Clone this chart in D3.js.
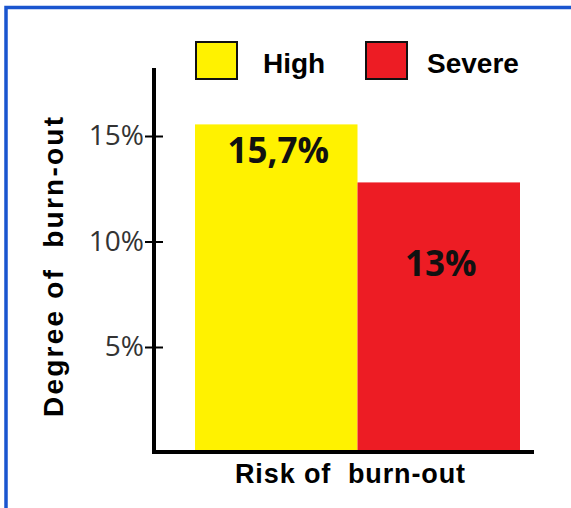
<!DOCTYPE html>
<html>
<head>
<meta charset="utf-8">
<script src="https://cdn.jsdelivr.net/npm/d3@7"></script>
<style>
  body { margin: 0; background: #fff; }
  svg { display: block; }
</style>
</head>
<body>
<svg id="chart"></svg>
<script>
// data (bar heights as drawn, labels as printed)
const categories = ['High', 'Severe'];
const values = [15.55, 12.8];
const valueLabels = ['15,7%', '13%'];
const colors = ['#fff200', '#ed1c24'];
const yTicks = [5, 10, 15];

const width = 571, height = 508;

const svg = d3.select('#chart')
    .attr('width', width)
    .attr('height', height);

// blue frame, only top and left show up in the crop
svg.append('rect')
    .attr('x', 6)
    .attr('y', 7.5)
    .attr('width', 600)
    .attr('height', 560)
    .attr('fill', 'none')
    .attr('stroke', '#1a55cf')
    .attr('stroke-width', 3.5);

const xScale = d3.scaleBand()
    .domain(categories)
    .range([195, 520])
    .padding(0);

const yScale = d3.scaleLinear()
    .domain([0, 15])
    .range([452.5, 136]);

// bars
svg.selectAll('.bar')
    .data(values)
  .join('rect')
    .attr('class', 'bar')
    .attr('x', (d, i) => xScale(categories[i]))
    .attr('y', d => yScale(d))
    .attr('width', xScale.bandwidth())
    .attr('height', d => yScale(0) - yScale(d))
    .attr('fill', (d, i) => colors[i]);

// value labels inside bars (red one sits lower, as in the original)
const labelDrop = [39, 94];
svg.selectAll('.bar-label')
    .data(values)
  .join('text')
    .attr('class', 'bar-label')
    .attr('x', (d, i) => xScale(categories[i]) + xScale.bandwidth() / 2 + 2)
    .attr('y', (d, i) => yScale(d) + labelDrop[i])
    .attr('text-anchor', 'middle')
    .style('font-family', '"Open Sans", sans-serif')
    .style('font-weight', 700)
    .style('font-size', '35px')
    .attr('fill', '#111')
    .text((d, i) => valueLabels[i]);

// y axis
const yAxis = d3.axisLeft(yScale)
    .tickValues(yTicks)
    .tickSize(0)
    .tickPadding(10)
    .tickFormat(d => d + '%');

const yAxisG = svg.append('g')
    .attr('transform', 'translate(154,0)')
    .call(yAxis)
    .call(g => g.select('.domain').remove());

yAxisG.selectAll('.tick text')
    .style('font-family', '"Open Sans", sans-serif')
    .style('font-size', '28px')
    .attr('fill', '#333');

// ticks cross the axis line
yAxisG.selectAll('.tick').append('line')
    .attr('x1', -9)
    .attr('x2', 9)
    .attr('stroke', '#000')
    .attr('stroke-width', 2);

// axis lines
svg.append('line')
    .attr('x1', 154).attr('x2', 154)
    .attr('y1', 68).attr('y2', 454)
    .attr('stroke', '#000')
    .attr('stroke-width', 4);

svg.append('line')
    .attr('x1', 152).attr('x2', 534)
    .attr('y1', 452).attr('y2', 452)
    .attr('stroke', '#000')
    .attr('stroke-width', 4);

// axis titles
svg.append('text')
    .attr('x', 235)
    .attr('y', 483)
    .style('font-family', '"Liberation Sans", Arial, sans-serif')
    .style('font-weight', 700)
    .style('font-size', '27px')
    .style('white-space', 'pre')
    .attr('textLength', 230)
    .attr('fill', '#000')
    .text('Risk of  burn-out');

svg.append('text')
    .attr('transform', 'translate(63,417) rotate(-90)')
    .style('font-family', '"Liberation Sans", Arial, sans-serif')
    .style('font-weight', 700)
    .style('font-size', '28px')
    .style('white-space', 'pre')
    .attr('textLength', 300)
    .attr('fill', '#000')
    .text('Degree of  burn-out');

// legend
const legendX = [196, 366];
const legend = svg.selectAll('.legend')
    .data(categories)
  .join('g')
    .attr('class', 'legend')
    .attr('transform', (d, i) => `translate(${legendX[i]},42)`);

legend.append('rect')
    .attr('width', 41)
    .attr('height', 37)
    .attr('fill', (d, i) => colors[i])
    .attr('stroke', '#111')
    .attr('stroke-width', 2);

legend.append('text')
    .attr('x', (d, i) => i === 0 ? 67 : 61)
    .attr('y', 31)
    .style('font-family', '"Liberation Sans", Arial, sans-serif')
    .style('font-weight', 700)
    .style('font-size', '28px')
    .attr('fill', '#000')
    .text(d => d);
</script>
</body>
</html>
